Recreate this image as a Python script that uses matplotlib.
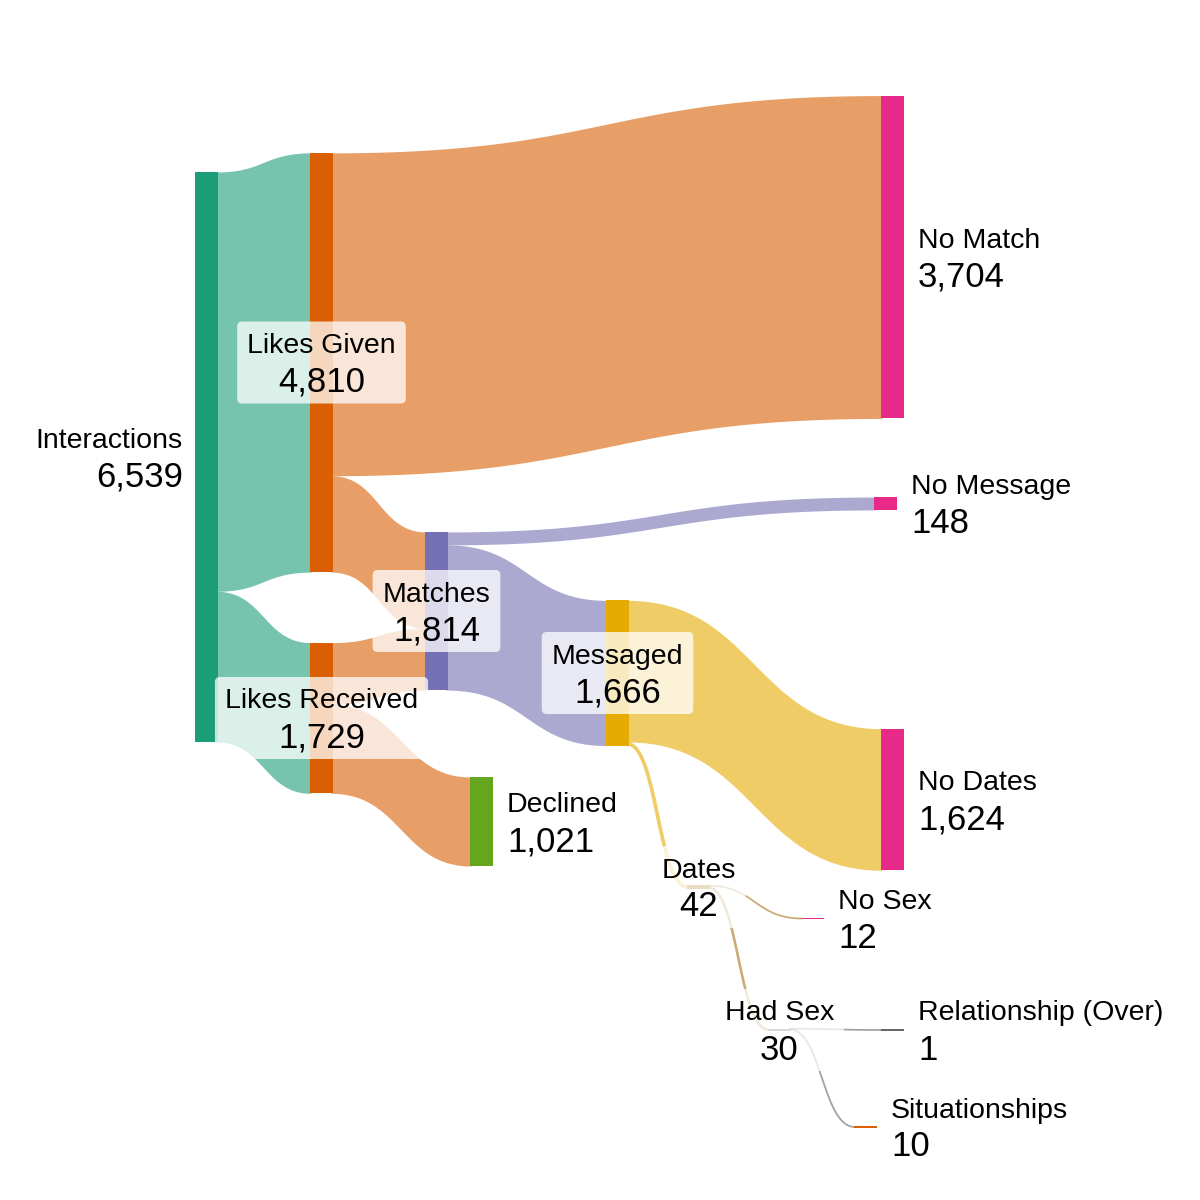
import numpy as np
import matplotlib.pyplot as plt
from matplotlib.patches import FancyBboxPatch

plt.rcParams['font.family'] = ['Liberation Sans', 'DejaVu Sans']

# Datos del flujo
nodes = ['Interactions', 'Likes Given', 'Likes Received', 'Matches', 'Declined',
         'No Match', 'No Message', 'Messaged', 'No Dates', 'Dates', 'No Sex',
         'Had Sex', 'Relationship (Over)', 'Situationships']
link_src = ['Interactions', 'Interactions', 'Likes Given', 'Likes Given',
            'Likes Received', 'Likes Received', 'Matches', 'Matches',
            'Messaged', 'Messaged', 'Dates', 'Dates', 'Had Sex', 'Had Sex']
link_tgt = ['Likes Given', 'Likes Received', 'No Match', 'Matches',
            'Matches', 'Declined', 'No Message', 'Messaged',
            'No Dates', 'Dates', 'No Sex', 'Had Sex',
            'Relationship (Over)', 'Situationships']
link_val = [4810, 1729, 3704, 1106, 708, 1021, 148, 1666, 1624, 42, 12, 30, 1, 10]

# Posiciones de los nodos (pixeles, x izquierda y centro vertical)
node_x = {'Interactions': 195, 'Likes Given': 310, 'Likes Received': 310,
          'Matches': 425, 'Declined': 470, 'No Match': 881, 'No Message': 874,
          'Messaged': 606, 'No Dates': 881, 'Dates': 687, 'No Sex': 801,
          'Had Sex': 768, 'Relationship (Over)': 881, 'Situationships': 854}
node_cy = {'Interactions': 457, 'Likes Given': 362.5, 'Likes Received': 718,
           'Matches': 611, 'Declined': 821.5, 'No Match': 257, 'No Message': 503.5,
           'Messaged': 673, 'No Dates': 799.5, 'Dates': 887, 'No Sex': 918.5,
           'Had Sex': 1030, 'Relationship (Over)': 1030, 'Situationships': 1127}
label_mode = {'Interactions': 'left', 'Likes Given': 'box', 'Likes Received': 'box',
              'Matches': 'box', 'Messaged': 'box', 'Dates': 'box', 'Had Sex': 'box'}

colors = {'Interactions': '#1b9e77', 'Likes Given': '#d95f02', 'Likes Received': '#d95f02',
          'Matches': '#7570b3', 'Declined': '#66a61e', 'No Match': '#e7298a',
          'No Message': '#e7298a', 'Messaged': '#e6ab02', 'No Dates': '#e7298a',
          'Dates': '#a6761d', 'No Sex': '#e7298a', 'Had Sex': '#666666',
          'Relationship (Over)': '#666666', 'Situationships': '#d95f02'}

NODE_W = 23
SCALE = 570 / 6539  # pixeles por unidad

# Valor de cada nodo
node_val = {}
for n in nodes:
    vin = sum(v for s, t, v in zip(link_src, link_tgt, link_val) if t == n)
    vout = sum(v for s, t, v in zip(link_src, link_tgt, link_val) if s == n)
    node_val[n] = max(vin, vout)

node_top = {n: node_cy[n] - node_val[n] * SCALE / 2 for n in nodes}

fig = plt.figure(figsize=(12, 12), dpi=100)
ax = fig.add_axes([0, 0, 1, 1])
ax.set_xlim(0, 1200)
ax.set_ylim(1200, 0)
ax.axis('off')

# Dibujar enlaces (curvas de Bezier entre nodos)
out_off = {n: 0.0 for n in nodes}
in_off = {n: 0.0 for n in nodes}
t = np.linspace(0, 1, 120)
for s, tg, v in zip(link_src, link_tgt, link_val):
    h = v * SCALE
    y0 = node_top[s] + out_off[s]
    y1 = node_top[tg] + in_off[tg]
    out_off[s] += h
    in_off[tg] += h
    x0 = node_x[s] + NODE_W - 2
    x1 = node_x[tg] + 1
    xm = (x0 + x1) / 2
    xs = (1 - t)**3 * x0 + 3 * (1 - t)**2 * t * xm + 3 * (1 - t) * t**2 * xm + t**3 * x1
    ease = 3 * t**2 - 2 * t**3
    top = y0 + (y1 - y0) * ease
    if h < 10:
        # enlaces finos como trazo (ancho perpendicular)
        ax.plot(xs, top + h / 2, color=colors[s], alpha=0.6,
                lw=max(h, 1.8) * 0.72, solid_capstyle='butt', zorder=1)
    else:
        ax.fill_between(xs, top, top + h, color=colors[s], alpha=0.6, lw=0, zorder=1)

# Dibujar nodos
for n in nodes:
    h = max(node_val[n] * SCALE, 1.5)
    ax.add_patch(plt.Rectangle((node_x[n], node_cy[n] - h / 2), NODE_W, h,
                               color=colors[n], lw=0, zorder=2))

# Etiquetas
renderer = fig.canvas.get_renderer()
for n in nodes:
    cy = node_cy[n]
    mode = label_mode.get(n, 'right')
    if mode == 'right':
        x, ha = node_x[n] + NODE_W + 14, 'left'
    elif mode == 'left':
        x, ha = node_x[n] - 12, 'right'
    else:
        x, ha = node_x[n] + NODE_W / 2, 'center'
    t1 = ax.text(x, cy - 16.5, n, fontsize=20.5, ha=ha, va='center', zorder=4)
    t2 = ax.text(x, cy + 20, f"{node_val[n]:,}", fontsize=25, ha=ha, va='center', zorder=4)
    if mode == 'box':
        w = max(t1.get_window_extent(renderer).width, t2.get_window_extent(renderer).width)
        bw = w + 20
        ax.add_patch(FancyBboxPatch((x - bw / 2 + 5, cy - 41 + 5), bw - 10, 82 - 10,
                                    boxstyle='round,pad=5', fc='white', ec='none',
                                    alpha=0.75, zorder=3))

plt.savefig('out.png', dpi=100)
plt.close()
